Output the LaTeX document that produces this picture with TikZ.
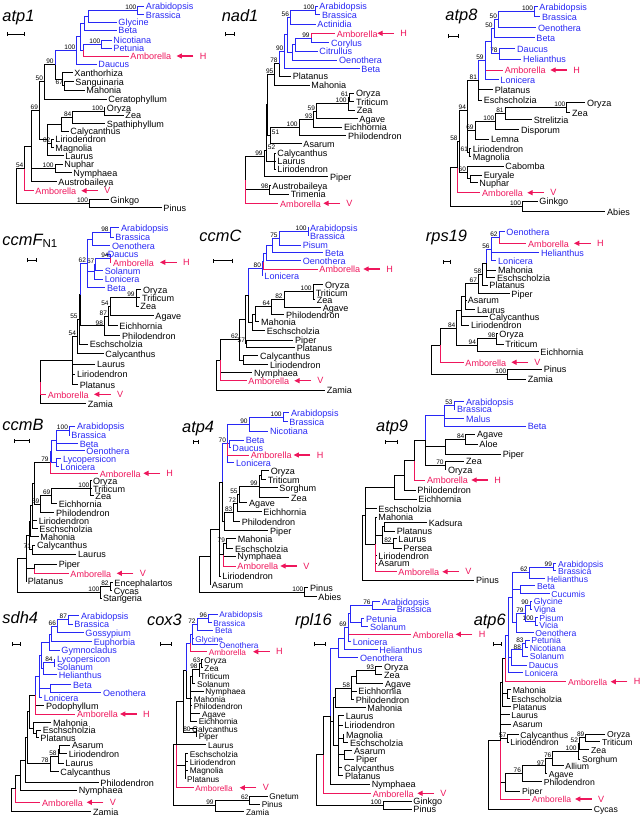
\documentclass[tikz,border=0pt]{standalone}
\usepackage{fontspec}
\setmainfont{Liberation Sans}
\usetikzlibrary{calc,arrows.meta}
\definecolor{treeblue}{RGB}{40,40,245}
\definecolor{amborella}{RGB}{238,22,92}
\tikzset{
  leaf/.style={anchor=west, xshift=-1pt, inner xsep=1pt, inner ysep=0pt, text height=1.45ex, text depth=0.35ex, font=\fontsize{6.8}{7}\selectfont},
  bl/.style={color=treeblue},
  am/.style={color=amborella},
  bsv/.style={anchor=south east, xshift=-0.4pt, inner sep=0.3pt, font=\fontsize{4.9}{5}\selectfont},
  ttl/.style={anchor=base west, inner sep=0pt, font=\fontsize{12.3}{14}\selectfont\itshape},
  hvlab/.style={anchor=west, inner sep=0pt, color=amborella, font=\fontsize{6.8}{7}\selectfont},
  hvarr/.style={color=amborella, line width=0.8pt, -{Triangle[length=4pt,width=3.8pt]}},
  sbar/.style={line width=0.7pt, {Bar[width=3pt]}-{Bar[width=3pt]}},
}
% leaf, internal node, branch, clade, support value, H/V marker
\newcommand\lf[4][]{\node[leaf,#1] (#2) at (#3) {#4};}
\newcommand\nd[4]{\path ($(#3)!.5!(#4)$) coordinate (tmp); \coordinate (#1) at (tmp -| #2,0);}
\newcommand\br[3][]{\draw[#1] (#2) |- (#3);}
\newcommand\cl[5][]{\nd{#2}{#3}{#4}{#5}\br[#1]{#2}{#4}\br[#1]{#2}{#5}}
\newcommand\clxy[5][]{\coordinate (#2) at (#3); \br[#1]{#2}{#4}\br[#1]{#2}{#5}}
\newcommand\bsv[3][]{\node[bsv,#1] (s#2) at (#2) {#3};}
\newcommand\hv[3]{\node[hvlab] (#1) at (#2) {#3}; \draw[hvarr] ([xshift=-4.5pt]#1.west) -- ++(-12.5pt,0);}
\begin{document}
\begin{tikzpicture}[x=0.75pt, y=-0.75pt, line width=0.7pt]
\useasboundingbox (0,0) rectangle (640,818);
% ---------------- atp1
\begin{scope}[name prefix=A-]
\node[ttl] (title) at (2,21) {atp1};
\draw[sbar] (7,34) -- (25,34);
\lf[bl]{arab}{145.5,6}{Arabidopsis}
\lf[bl]{bras}{145.5,14.7}{Brassica}
\lf[bl]{glyc}{118,22}{Glycine}
\lf[bl]{beta}{118,30}{Beta}
\lf[bl]{nico}{113,40}{Nicotiana}
\lf[bl]{petu}{113,48}{Petunia}
\lf[am]{ambh}{130,56}{Amborella}
\lf[bl]{dauc}{98,64}{Daucus}
\lf{xant}{74,72.3}{Xanthorhiza}
\lf{sang}{75,81.7}{Sanguinaria}
\lf{maho}{86,90}{Mahonia}
\lf{cera}{108,99}{Ceratophyllum}
\lf{oryz}{106.5,107.7}{Oryza}
\lf{zea}{125,115}{Zea}
\lf{spat}{106.5,123.3}{Spathiphyllum}
\lf{caly}{70,131}{Calycanthus}
\lf{liri}{55,139}{Liriodendron}
\lf{magn}{55,147.3}{Magnolia}
\lf{laur}{65,155.7}{Laurus}
\lf{nuph}{64,164}{Nuphar}
\lf{nymp}{73,172.7}{Nymphaea}
\lf{aust}{58,181.3}{Austrobaileya}
\lf[am]{ambv}{35,190.7}{Amborella}
\lf{gink}{110,199.3}{Ginkgo}
\lf{pinu}{163,207.3}{Pinus}
\hv{mh}{199.3,56}{H}
\hv{mv}{104,190.7}{V}
\cl[bl]{n1}{137.7}{arab}{bras} \bsv{n1}{100}
\cl[bl]{n2}{88.3}{n1}{glyc}
\cl[bl]{n3}{84.3}{n2}{beta}
\cl[bl]{n4}{101.7}{nico}{petu} \bsv{n4}{100}
\nd{n5}{83.3}{n4}{ambh} \br[bl]{n5}{n4} \br[am]{n5}{ambh}
\cl[bl]{n6}{80}{n3}{n5}
\cl[bl]{n7}{76.7}{n6}{dauc} \bsv{n7}{100}
\cl{n8}{64.3}{sang}{maho} \bsv{n8}{67}
\cl{n9}{62.5}{xant}{n8}
\nd{n10}{55}{n7}{n9} \br[bl]{n10}{n7} \br{n10}{n9} \bsv{n10}{90}
\cl{n11}{44.3}{n10}{cera} \bsv{n11}{50}
\cl{n12}{104.3}{oryz}{zea} \bsv{n12}{100}
\cl{n13}{72.7}{n12}{spat} \bsv{n13}{84}
\cl{n14}{61}{n13}{caly}
\cl{n15}{51.7}{liri}{magn} \bsv{n15}{82}
\cl{n16}{47}{n14}{laur} \br{n16}{n15}
\cl{n17}{39.3}{n11}{n16} \bsv{n17}{69}
\cl{n18}{55}{nuph}{nymp} \bsv{n18}{100}
\cl{n19}{31}{n17}{aust} \br{n19}{n18}
\nd{n20}{24.7}{n19}{ambv} \br{n20}{n19} \br[am]{n20}{ambv} \bsv{n20}{54}
\cl{n21}{89.3}{gink}{pinu} \bsv{n21}{100}
\cl{n22}{16}{n20}{n21}
\end{scope}
% ---------------- nad1
\begin{scope}[name prefix=B-]
\node[ttl] (title) at (221.3,21.7) {nad1};
\draw[sbar] (224.7,34.3) -- (234.7,34.3);
\lf[bl]{arab}{319,6}{Arabidopsis}
\lf[bl]{bras}{321.7,14.7}{Brassica}
\lf[bl]{acti}{317,24}{Actinidia}
\lf[am]{ambh}{336.3,33.3}{Amborella}
\lf[bl]{cory}{330.7,42.7}{Corylus}
\lf[bl]{citr}{319,51}{Citrullus}
\lf[bl]{oeno}{338.7,60}{Oenothera}
\lf[bl]{beta}{361,68.7}{Beta}
\lf{plat}{292.3,76}{Platanus}
\lf{maho}{311,85}{Mahonia}
\lf{oryz}{355.7,93}{Oryza}
\lf{trit}{355.7,101.3}{Triticum}
\lf{zea}{356.3,110}{Zea}
\lf{agav}{359,118.7}{Agave}
\lf{eich}{343.7,127}{Eichhornia}
\lf{phil}{347.7,135.7}{Philodendron}
\lf{asar}{303,143.3}{Asarum}
\lf{caly}{277,153}{Calycanthus}
\lf{laur}{277,161}{Laurus}
\lf{liri}{277,169}{Liriodendron}
\lf{pipe}{329.7,176.7}{Piper}
\lf{aust}{272,185.7}{Austrobaileya}
\lf{trim}{290.3,194}{Trimenia}
\lf[am]{ambv}{279.7,203.3}{Amborella}
\hv{mh}{400,33.3}{H}
\hv{mv}{346,203.3}{V}
\cl[bl]{n1}{315.7}{arab}{bras} \bsv{n1}{100}
\cl[bl]{n2}{290.3}{n1}{acti} \bsv{n2}{56}
\nd{n3}{311}{ambh}{cory} \br[am]{n3}{ambh} \br[bl]{n3}{cory} \bsv{n3}{99}
\cl[bl]{n4}{295.7}{n3}{citr}
\cl[bl]{n5}{292}{n4}{oeno}
\cl[bl]{n6}{287}{n2}{n5}
\cl[bl]{n7}{284.7}{n6}{beta} \bsv{n7}{90}
\nd{n8}{279}{n7}{plat} \br[bl]{n8}{n7} \br{n8}{plat} \bsv{n8}{78}
\cl{n9}{274.7}{n8}{maho} \bsv{n9}{95}
\cl{n10}{349.7}{oryz}{trit} \bsv{n10}{61}
\cl{n11}{348}{n10}{zea} \bsv{n11}{100}
\cl{n12}{316.3}{n11}{agav} \bsv{n12}{59}
\cl{n13}{313.7}{n12}{eich} \bsv{n13}{93}
\cl{n14}{299}{n13}{phil} \bsv{n14}{100}
\cl{n15}{270.3}{n14}{asar} \bsv[anchor=south west,xshift=1pt]{n15}{51}
\cl{n16}{267.3}{n9}{n15}
\cl{n17}{274}{caly}{liri} \br{n17}{laur}
\clxy{n18}{266.3,150}{n16}{n17} \bsv[anchor=south west,xshift=1pt]{n18}{52}
\clxy{n19}{264,156.7}{n18}{pipe} \bsv{n19}{99}
\cl{n20}{269.7}{aust}{trim} \bsv{n20}{98}
\nd{n21}{245}{n19}{ambv} \br{n21}{n19} \br{n21}{n20} \br[am]{n21}{ambv}
\end{scope}
% ---------------- atp8
\begin{scope}[name prefix=C-]
\node[ttl] (title) at (445,20) {atp8};
\draw[sbar] (447.7,36) -- (459,36);
\lf[bl]{arab}{539,6.7}{Arabidopsis}
\lf[bl]{bras}{541.7,16.7}{Brassica}
\lf[bl]{oeno}{537.7,27.3}{Oenothera}
\lf[bl]{beta}{536,37.7}{Beta}
\lf[bl]{dauc}{516.7,48.3}{Daucus}
\lf[bl]{heli}{522.7,59}{Helianthus}
\lf[am]{ambh}{504.3,70}{Amborella}
\lf[bl]{loni}{500,79.3}{Lonicera}
\lf{plat}{494.3,89.3}{Platanus}
\lf{esch}{483.3,100}{Eschscholzia}
\lf{oryz}{586.7,102.3}{Oryza}
\lf{zea}{571.7,112.7}{Zea}
\lf{stre}{533.3,119.3}{Strelitzia}
\lf{disp}{520.7,129.3}{Disporum}
\lf{lemn}{490.7,139}{Lemna}
\lf{liri}{472.3,148.3}{Liriodendron}
\lf{magn}{472.3,156.7}{Magnolia}
\lf{cabo}{505,166}{Cabomba}
\lf{eury}{483.3,175}{Euryale}
\lf{nuph}{479,182.7}{Nuphar}
\lf[am]{ambv}{481.7,192.7}{Amborella}
\lf{gink}{539,201}{Ginkgo}
\lf{abie}{606.7,211.7}{Abies}
\hv{mh}{573,70}{H}
\hv{mv}{550,192.7}{V}
\cl[bl]{n1}{534.3}{arab}{bras} \bsv{n1}{100}
\cl[bl]{n2}{498.3}{n1}{oeno} \bsv{n2}{50}
\cl[bl]{n3}{494}{n2}{beta} \bsv{n3}{50}
\cl[bl]{n4}{499}{dauc}{heli} \bsv{n4}{78}
\cl[bl]{n5}{491.7}{n3}{n4}
\nd{n6}{485}{n5}{loni} \br[bl]{n6}{n5} \br[am]{n6}{ambh} \br[bl]{n6}{loni} \bsv{n6}{59}
\nd{n7}{478.3}{n6}{esch} \br[bl]{n7}{n6} \br{n7}{plat} \br{n7}{esch} \bsv{n7}{81}
\cl{n8}{566.7}{oryz}{zea} \bsv{n8}{100}
\cl{n9}{505}{n8}{stre} \bsv{n9}{81}
\cl{n10}{495.7}{n9}{disp} \bsv{n10}{100}
\cl{n11}{475}{n10}{lemn} \bsv{n11}{69}
\cl{n12}{469.3}{liri}{magn} \bsv{n12}{61}
\cl{n13}{467.7}{n11}{n12}
\cl{n14}{467.3}{n7}{n13} \bsv{n14}{94}
\cl{n15a}{470}{eury}{nuph}
\cl{n15}{467.3}{cabo}{n15a} \bsv{n15}{60}
\cl{n16}{459}{n14}{n15} \bsv{n16}{58}
\nd{n17}{457.5}{n16}{ambv} \br{n17}{n16} \br[am]{n17}{ambv}
\cl{n18}{522.3}{gink}{abie} \bsv{n18}{100}
\cl{n19}{450}{n17}{n18}
\end{scope}
% ---------------- ccmF N1
\begin{scope}[name prefix=D-]
\node[ttl] (title) at (2,245) {ccmF\textsubscript{\upshape N1}};
\draw[sbar] (26.7,260) -- (37.3,260);
\lf[bl]{arab}{120.7,227.7}{Arabidopsis}
\lf[bl]{bras}{115,237}{Brassica}
\lf[bl]{oeno}{111.7,245.7}{Oenothera}
\lf[bl]{dauc}{107.3,254}{Daucus}
\lf[am]{ambh}{112.7,262.3}{Amborella}
\lf[bl]{sola}{104.3,270.7}{Solanum}
\lf[bl]{loni}{104.3,279}{Lonicera}
\lf[bl]{beta}{106.7,287.3}{Beta}
\lf{oryz}{142.7,289.3}{Oryza}
\lf{trit}{141.7,297.7}{Triticum}
\lf{zea}{140,306}{Zea}
\lf{agav}{155,315.7}{Agave}
\lf{eich}{119,325.7}{Eichhornia}
\lf{phil}{121.7,335.7}{Philodendron}
\lf{esch}{89.3,344}{Eschscholzia}
\lf{caly}{105,353.3}{Calycanthus}
\lf{laur}{96.7,364}{Laurus}
\lf{liri}{76.7,374}{Liriodendron}
\lf{plat}{79.3,384.3}{Platanus}
\lf[am]{ambv}{47.3,394.3}{Amborella}
\lf{zami}{87.3,403.3}{Zamia}
\hv{mh}{182.7,262.3}{H}
\hv{mv}{116.7,394.3}{V}
\cl[bl]{n1}{110}{arab}{bras} \bsv{n1}{98}
\cl[bl]{n2}{92.3}{n1}{oeno}
\nd{n3}{110}{dauc}{ambh} \br[bl]{n3}{dauc} \br[am]{n3}{ambh} \bsv{n3}{94}
\cl[bl]{n4}{95.7}{n3}{sola} \bsv{n4}{67}
\cl[bl]{n5}{94.3}{n4}{loni}
\cl[bl]{n6}{87.3}{n2}{beta} \br[bl]{n6}{n5} \bsv{n6}{62}
\cl{n7}{136}{oryz}{zea} \br{n7}{trit} \bsv{n7}{99}
\cl{n8}{110}{n7}{agav} \bsv{n8}{54}
\cl{n9}{108.3}{n8}{eich} \bsv{n9}{87}
\cl{n10}{104.3}{n9}{phil} \bsv{n10}{98}
\nd{n11}{80}{n6}{n10} \br[bl]{n11}{n6} \br{n11}{n10}
\cl{n12}{79}{n11}{esch} \bsv{n12}{55}
\cl{n13}{77.3}{n12}{caly} \bsv{n13}{54}
\cl{n14}{72.7}{n13}{plat} \br{n14}{laur} \br{n14}{liri}
\nd{n15}{40.7}{n14}{zami} \br{n15}{n14} \br{n15}{zami} \br[am]{n15}{ambv}
\end{scope}
% ---------------- ccmC
\begin{scope}[name prefix=E-]
\node[ttl] (title) at (199,241.7) {ccmC};
\draw[sbar] (213,260.7) -- (233,260.7);
\lf[bl]{arab}{309.7,227.3}{Arabidopsis}
\lf[bl]{bras}{309.7,235.7}{Brassica}
\lf[bl]{pisu}{302.3,245}{Pisum}
\lf[bl]{beta}{324.7,252.3}{Beta}
\lf[bl]{oeno}{302.3,260.7}{Oenothera}
\lf[am]{ambh}{319,269}{Amborella}
\lf[bl]{loni}{264,275.7}{Lonicera}
\lf{oryz}{324.7,284.3}{Oryza}
\lf{trit}{315.3,292.3}{Triticum}
\lf{zea}{316.3,299.3}{Zea}
\lf{agav}{322.3,307.3}{Agave}
\lf{phil}{285.7,314.3}{Philodendron}
\lf{maho}{260.7,321.7}{Mahonia}
\lf{esch}{266.3,330.7}{Eschscholzia}
\lf{pipe}{294.7,340}{Piper}
\lf{plat}{296.3,347.7}{Platanus}
\lf{caly}{259.7,355.7}{Calycanthus}
\lf{liri}{269.7,364.3}{Liriodendron}
\lf{nymp}{253.7,372.7}{Nymphaea}
\lf[am]{ambv}{248,380.7}{Amborella}
\lf{zami}{326.3,390}{Zamia}
\hv{mh}{386,269}{H}
\hv{mv}{317,380.7}{V}
\cl[bl]{n1}{308}{arab}{bras} \bsv{n1}{100}
\cl[bl]{n2}{279}{n1}{pisu} \bsv{n2}{75}
\cl[bl]{n3}{272.3}{n2}{beta}
\cl[bl]{n4}{266.3}{n3}{oeno}
\nd{n5}{263.7}{n4}{ambh} \br[bl]{n5}{n4} \br[am]{n5}{ambh}
\cl[bl]{n6}{262.3}{n5}{loni} \bsv{n6}{80}
\cl{n7}{313}{oryz}{zea} \br{n7}{trit} \bsv{n7}{100}
\cl{n8}{284}{n7}{agav} \bsv{n8}{82}
\cl{n9}{271.3}{n8}{phil} \bsv{n9}{64}
\cl{n10}{255.7}{n9}{maho}
\cl{n11}{252.3}{n10}{esch}
\cl{n12}{246.3}{pipe}{plat} \bsv{n12}{57}
\cl{n13}{243}{caly}{liri}
\nd{n14}{248.7}{n6}{n11} \br[bl]{n14}{n6} \br{n14}{n11}
\cl{n15}{245.3}{n14}{n12}
\cl{n16}{239.7}{n15}{n13} \bsv{n16}{62}
\nd{n17}{220.3}{n16}{ambv} \br{n17}{n16} \br{n17}{nymp} \br[am]{n17}{ambv}
\cl{n18}{216.3}{n17}{zami}
\end{scope}
% ---------------- rps19
\begin{scope}[name prefix=F-]
\node[ttl] (title) at (425.5,241.7) {rps19};
\draw[sbar] (443.3,261.7) -- (451,261.7);
\lf[bl]{oeno}{506,231.7}{Oenothera}
\lf[am]{ambh}{527.7,243.3}{Amborella}
\lf[bl]{heli}{540.7,252.7}{Helianthus}
\lf[bl]{loni}{497.7,260.7}{Lonicera}
\lf{maho}{497.7,270}{Mahonia}
\lf{esch}{496.7,277.7}{Eschscholzia}
\lf{plat}{489,285}{Platanus}
\lf{pipe}{511,293.3}{Piper}
\lf{asar}{467.3,300}{Asarum}
\lf{laur}{476.7,309.3}{Laurus}
\lf{caly}{489,316.7}{Calycanthus}
\lf{liri}{470.7,325}{Liriodendron}
\lf{oryz}{499,333.3}{Oryza}
\lf{trit}{505,344}{Triticum}
\lf{eich}{540,351.7}{Eichhornia}
\lf[am]{ambv}{465,362.3}{Amborella}
\lf{pinu}{543.3,369}{Pinus}
\lf{zami}{527.3,379}{Zamia}
\hv{mh}{596.7,243.3}{H}
\hv{mv}{534,362.3}{V}
\nd{n1}{499}{oeno}{ambh} \br[bl]{n1}{oeno} \br[am]{n1}{ambh} \bsv{n1}{62}
\cl[bl]{n2}{491}{n1}{loni} \br[bl]{n2}{heli} \bsv{n2}{56}
\nd{n3}{486.7}{n2}{esch} \br[bl]{n3}{n2} \br{n3}{maho} \br{n3}{esch}
\cl{n4}{482.7}{n3}{plat} \bsv{n4}{58}
\cl{n5}{478.3}{n4}{pipe} \bsv{n5}{67}
\cl{n6}{465.7}{n5}{laur} \br{n6}{asar}
\cl{n7}{461}{n6}{liri} \br{n7}{caly}
\cl{n8}{496.7}{oryz}{trit} \bsv{n8}{98}
\cl{n9}{477.3}{n8}{eich} \bsv{n9}{94}
\cl{n10}{456.7}{n7}{n9} \bsv{n10}{84}
\nd{n11}{440}{n10}{ambv} \br{n11}{n10} \br[am]{n11}{ambv}
\cl{n12}{507.7}{pinu}{zami} \bsv{n12}{100}
\cl{n13}{431}{n11}{n12}
\end{scope}
% ---------------- ccmB
\begin{scope}[name prefix=G-]
\node[ttl] (title) at (2,430.7) {ccmB};
\draw[sbar] (14,440.7) -- (30,440.7);
\lf[bl]{arab}{76.7,426}{Arabidopsis}
\lf[bl]{bras}{71,435}{Brassica}
\lf[bl]{beta}{79.3,443.3}{Beta}
\lf[bl]{oeno}{86,450.7}{Oenothera}
\lf[bl]{lyco}{62.7,458.3}{Lycopersicon}
\lf[bl]{loni}{60,466.7}{Lonicera}
\lf[am]{ambh}{99.3,473.3}{Amborella}
\lf{oryz}{92.7,480.7}{Oryza}
\lf{trit}{92.7,488.3}{Triticum}
\lf{zea}{95,495.7}{Zea}
\lf{eich}{58.3,503.3}{Eichhornia}
\lf{phil}{55.7,512.3}{Philodendron}
\lf{liri}{38.3,520.7}{Liriodendron}
\lf{esch}{39,528.3}{Eschscholzia}
\lf{maho}{40,536.7}{Mahonia}
\lf{caly}{36.7,545}{Calycanthus}
\lf{laur}{77.7,554}{Laurus}
\lf{pipe}{58.3,564}{Piper}
\lf[am]{ambv}{70,573.3}{Amborella}
\lf{plat}{27.3,581}{Platanus}
\lf{ence}{114,582.7}{Encephalartos}
\lf{cyca}{113.3,590.7}{Cycas}
\lf{stan}{102.7,598}{Stangeria}
\hv{mh}{166,473.3}{H}
\hv{mv}{139.3,573.3}{V}
\cl[bl]{n1}{69.3}{arab}{bras} \bsv{n1}{100}
\cl[bl]{n2}{56.7}{n1}{oeno} \br[bl]{n2}{beta}
\cl[bl]{n3}{56.7}{lyco}{loni}
\cl[bl]{n4}{51.7}{n2}{n3}
\nd{n5}{50}{n4}{ambh} \br[bl]{n5}{n4} \br[am]{n5}{ambh} \bsv{n5}{79}
\cl{n6}{90.7}{oryz}{zea} \br{n6}{trit} \bsv{n6}{100}
\cl{n7}{51.7}{n6}{eich} \bsv{n7}{69}
\cl{n8}{40.7}{n7}{phil} \bsv{n8}{59}
\cl{n9}{34.3}{n5}{n8}
\cl{n10}{32.3}{n9}{esch} \br{n10}{liri}
\cl{n11}{30}{n10}{maho}
\cl{n12}{32.3}{caly}{laur} \bsv{n12}{71}
\nd{n13}{34.3}{pipe}{ambv} \br{n13}{pipe} \br[am]{n13}{ambv}
\cl{n14}{29.3}{n11}{n12}
\cl{n15}{26}{n14}{plat} \br{n15}{n13}
\cl{n16}{110}{ence}{cyca} \bsv{n16}{82}
\cl{n17}{100.7}{n16}{stan} \bsv{n17}{100}
\cl{n18}{17.3}{n15}{n17}
\end{scope}
% ---------------- atp4
\begin{scope}[name prefix=H-]
\node[ttl] (title) at (181.7,432.3) {atp4};
\draw[sbar] (192.7,441.7) -- (199.3,441.7);
\lf[bl]{arab}{290.7,412.3}{Arabidopsis}
\lf[bl]{bras}{289,421.7}{Brassica}
\lf[bl]{nico}{269.7,431}{Nicotiana}
\lf[bl]{beta}{245.3,440}{Beta}
\lf[bl]{dauc}{232,447.3}{Daucus}
\lf[am]{ambh}{250.3,455}{Amborella}
\lf[bl]{loni}{235.7,462.7}{Lonicera}
\lf{oryz}{270.3,470.7}{Oryza}
\lf{trit}{267.3,479.3}{Triticum}
\lf{sorg}{279,487.7}{Sorghum}
\lf{zea}{290.7,497.3}{Zea}
\lf{agav}{248.7,502.7}{Agave}
\lf{eich}{263,511.7}{Eichhornia}
\lf{phil}{241.3,521.7}{Philodendron}
\lf{pipe}{269.7,530.7}{Piper}
\lf{maho}{237.3,538.3}{Mahonia}
\lf{esch}{234.7,548.3}{Eschscholzia}
\lf{nymp}{237,556}{Nymphaea}
\lf[am]{ambv}{237,566}{Amborella}
\lf{liri}{222,576}{Liriodendron}
\lf{asar}{211.5,584.3}{Asarum}
\lf{pinu}{309.7,587.7}{Pinus}
\lf{abie}{318,596.7}{Abies}
\hv{mh}{316.3,455}{H}
\hv{mv}{303,566}{V}
\cl[bl]{n1}{283}{arab}{bras} \bsv{n1}{100}
\cl[bl]{n2}{249}{n1}{nico} \bsv{n2}{90}
\cl[bl]{n3}{229.7}{beta}{dauc}
\cl[bl]{n4}{227.3}{n2}{loni} \br[bl]{n4}{n3} \br[am]{n4}{ambh} \bsv{n4}{70}
\cl{n5}{261.3}{oryz}{trit}
\cl{n6}{259}{n5}{zea} \br{n6}{sorg} \bsv{n6}{99}
\cl{n7}{239}{n6}{agav} \bsv{n7}{55}
\cl{n8}{237.3}{n7}{eich} \bsv{n8}{72}
\cl{n9}{233.7}{n8}{phil} \bsv{n9}{83}
\cl{n10}{224}{n9}{pipe}
\nd{n11}{222.3}{n4}{n10} \br[bl]{n11}{n4} \br{n11}{n10}
\cl{n12}{226.3}{maho}{esch} \bsv{n12}{79}
\nd{n13}{223.7}{n12}{ambv} \br{n13}{n12} \br{n13}{nymp} \br[am]{n13}{ambv}
\cl{n14}{219}{n11}{liri} \br{n14}{n13}
\cl{n15}{210}{n14}{asar}
\cl{n16}{304.7}{pinu}{abie} \bsv{n16}{100}
\cl{n17}{199.3}{n15}{n16}
\end{scope}
% ---------------- atp9
\begin{scope}[name prefix=I-]
\node[ttl] (title) at (375.7,431.7) {atp9};
\draw[sbar] (384.7,441.7) -- (398,441.7);
\lf[bl]{arab}{465.7,401.7}{Arabidopsis}
\lf[bl]{bras}{456.7,409}{Brassica}
\lf[bl]{malu}{465.7,418.3}{Malus}
\lf[bl]{beta}{527.3,426}{Beta}
\lf{agav}{476.7,434}{Agave}
\lf{aloe}{479,444}{Aloe}
\lf{pipe}{502.3,454}{Piper}
\lf{zea}{465.7,461}{Zea}
\lf{oryz}{447.7,469.3}{Oryza}
\lf[am]{ambh}{426.7,480}{Amborella}
\lf{phil}{417,490}{Philodendron}
\lf{eich}{418,499}{Eichhornia}
\lf{esch}{378,508.3}{Eschscholzia}
\lf{maho}{378,517}{Mahonia}
\lf{kads}{428.3,522.7}{Kadsura}
\lf{plat}{396.3,531}{Platanus}
\lf{laur}{398,538.8}{Laurus}
\lf{pers}{403,548}{Persea}
\lf{liri}{378,555.6}{Liriodendron}
\lf{asar}{378,563}{Asarum}
\lf[am]{ambv}{398,571.7}{Amborella}
\lf{pinu}{475.7,580}{Pinus}
\hv{mh}{494,480}{H}
\hv{mv}{465,571.7}{V}
\cl[bl]{n1}{454}{arab}{bras} \bsv{n1}{53}
\cl[bl]{n2}{444}{n1}{beta} \br[bl]{n2}{malu}
\cl{n3}{465.7}{agav}{aloe} \bsv{n3}{84}
\cl{n4}{445.7}{n3}{pipe}
\cl{n5}{445}{zea}{oryz} \bsv{n5}{70}
\nd{n6}{425}{n2}{n5} \br[bl]{n6}{n2} \br{n6}{n4} \br{n6}{n5}
\nd{n7}{414.7}{n6}{ambh} \br{n7}{n6} \br[am]{n7}{ambh}
\cl{n8}{404.7}{n7}{phil}
\cl{n9}{394.7}{n8}{eich}
\cl{n10}{384.7}{kads}{plat}
\cl{n11}{393}{laur}{pers} \bsv{n11}{82}
\cl{n12}{382}{n10}{n11}
\nd{n13}{375.3}{maho}{ambv} \br{n13}{maho} \br{n13}{n12} \br{n13}{liri} \br{n13}{asar} \br[am]{n13}{ambv}
\nd{n14}{365.7}{n9}{n13} \br{n14}{n9} \br{n14}{esch} \br{n14}{n13}
\cl{n15}{362}{n14}{pinu}
\end{scope}
% ---------------- sdh4
\begin{scope}[name prefix=J-]
\node[ttl] (title) at (2,623.3) {sdh4};
\draw[sbar] (11.7,644.3) -- (20.7,644.3);
\lf[bl]{arab}{80.7,615.7}{Arabidopsis}
\lf[bl]{bras}{74,624}{Brassica}
\lf[bl]{goss}{85,632.7}{Gossypium}
\lf[bl]{euph}{93.3,641.7}{Euphorbia}
\lf[bl]{gymn}{61,650}{Gymnocladus}
\lf[bl]{lyco}{56.7,659}{Lycopersicon}
\lf[bl]{sola}{56.7,666.7}{Solanum}
\lf[bl]{heli}{58.3,674.3}{Helianthus}
\lf[bl]{beta}{72.7,684.3}{Beta}
\lf[bl]{oeno}{102.7,692.3}{Oenothera}
\lf[bl]{loni}{43.3,697.8}{Lonicera}
\lf{podo}{45.7,705.8}{Podophyllum}
\lf[am]{ambh}{76.7,714}{Amborella}
\lf{maho}{52.7,722.3}{Mahonia}
\lf{esch}{42.3,730}{Eschscholzia}
\lf{plat}{40,737.3}{Platanus}
\lf{asar}{71.7,745}{Asarum}
\lf{liri}{68.3,753.3}{Liriodendron}
\lf{laur}{65,763}{Laurus}
\lf{caly}{60,771.7}{Calycanthus}
\lf{phil}{100,782.3}{Philodendron}
\lf{nymp}{78.3,790}{Nymphaea}
\lf[am]{ambv}{41.7,802.3}{Amborella}
\lf{zami}{92.7,811.7}{Zamia}
\hv{mh}{142.7,714}{H}
\hv{mv}{109.3,802.3}{V}
\cl[bl]{n1}{68.3}{arab}{bras} \bsv{n1}{87}
\cl[bl]{n2}{57.3}{n1}{goss} \bsv{n2}{66}
\cl[bl]{n3}{51}{n2}{euph}
\cl[bl]{n4}{49.3}{n3}{gymn}
\cl[bl]{n5}{54}{lyco}{sola} \bsv{n5}{84}
\cl[bl]{n6}{43.3}{n5}{heli}
\cl[bl]{n7}{50}{beta}{oeno}
\cl[bl]{n8}{41.7}{n4}{n6}
\cl[bl]{n9}{39.3}{n8}{loni} \br[bl]{n9}{n7}
\nd{n10}{35}{n9}{ambh} \br[bl]{n10}{n9} \br{n10}{podo} \br[am]{n10}{ambh}
\cl{n11a}{36}{esch}{plat}
\cl{n11}{33.3}{maho}{n11a}
\cl{n12}{29.3}{n10}{n11}
\cl{n13}{59.3}{asar}{liri}
\cl{n14}{58}{n13}{laur} \bsv{n14}{58}
\cl{n15}{50}{n14}{caly} \bsv{n15}{78}
\cl{n16}{27}{n12}{n15}
\cl{n17}{25}{n16}{phil}
\cl{n18}{20}{n17}{nymp}
\nd{n19}{15}{n18}{ambv} \br{n19}{n18} \br[am]{n19}{ambv}
\cl{n20}{11.7}{n19}{zami}
\end{scope}
% ---------------- cox3
\begin{scope}[name prefix=K-, leaf/.append style={font=\fontsize{6.2}{6.5}\selectfont}]
\node[ttl] (title) at (146.7,625) {cox3};
\draw[sbar] (160,644.3) -- (171.7,644.3);
\lf[bl]{arab}{219,614}{Arabidopsis}
\lf[bl]{bras}{213,622.3}{Brassica}
\lf[bl]{beta}{214.7,630}{Beta}
\lf[bl]{glyc}{195,638.3}{Glycine}
\lf[bl]{oeno}{219,644.5}{Oenothera}
\lf[am]{ambh}{208.3,651.7}{Amborella}
\lf{oryz}{204,659.3}{Oryza}
\lf{zea}{204,667.7}{Zea}
\lf{trit}{200,676}{Triticum}
\lf{sola}{196.7,683.7}{Solanum}
\lf{nymp}{205,691}{Nymphaea}
\lf{maho}{193.3,698.3}{Mahonia}
\lf{phil}{193.3,705.7}{Philodendron}
\lf{agav}{201.7,713.3}{Agave}
\lf{eich}{198.3,721}{Eichhornia}
\lf{caly}{191.7,728.3}{Calycanthus}
\lf{pipe}{198.3,736}{Piper}
\lf{laur}{207.7,744.3}{Laurus}
\lf{esch}{189.3,753.3}{Eschscholzia}
\lf{liri}{189.3,761.7}{Liriodendron}
\lf{magn}{189.3,770}{Magnolia}
\lf{plat}{186.7,778.3}{Platanus}
\lf[am]{ambv}{195,787.7}{Amborella}
\lf{gnet}{269,796}{Gnetum}
\lf{pinu}{261.3,804}{Pinus}
\lf{zami}{245.7,811.7}{Zamia}
\hv{mh}{275.7,651.7}{H}
\hv{mv}{262.3,787.7}{V}
\cl[bl]{n1}{208.3}{arab}{bras} \bsv{n1}{96}
\cl[bl]{n2}{197}{n1}{beta} \bsv{n2}{72}
\cl[bl]{n3}{192}{n2}{oeno} \br[bl]{n3}{glyc}
\nd{n4}{190}{n3}{ambh} \br[bl]{n4}{n3} \br[am]{n4}{ambh}
\cl{n5}{201.7}{oryz}{zea} \bsv{n5}{63}
\cl{n6}{199}{n5}{trit} \bsv{n6}{98}
\cl{n7}{192}{n6}{sola}
\cl{n8}{190}{n7}{eich} \br{n8}{nymp} \br{n8}{maho} \br{n8}{phil} \br{n8}{agav}
\nd{n9}{186}{n4}{n8} \br[bl]{n9}{n4} \br{n9}{n8}
\cl{n10}{196}{caly}{pipe} \bsv[xshift=-3pt]{n10}{80}
\cl{n11}{183}{n9}{n10}
\cl{n12}{185}{esch}{plat} \br{n12}{liri} \br{n12}{magn}
\nd{n13}{176.7}{n11}{ambv} \br{n13}{n11} \br{n13}{laur} \br{n13}{n12} \br[am]{n13}{ambv}
\cl{n14}{249.7}{gnet}{pinu} \bsv{n14}{62}
\cl{n15}{215}{n14}{zami} \bsv{n15}{99}
\cl{n16}{173.3}{n13}{n15}
\end{scope}
% ---------------- rpl16
\begin{scope}[name prefix=L-]
\node[ttl] (title) at (294.7,625) {rpl16};
\draw[sbar] (313.7,644.3) -- (326.3,644.3);
\lf[bl]{arab}{381.3,601.7}{Arabidopsis}
\lf[bl]{bras}{396.3,609}{Brassica}
\lf[bl]{petu}{365.7,618.3}{Petunia}
\lf[bl]{sola}{369.7,626.7}{Solanum}
\lf[am]{ambh}{412.3,634.3}{Amborella}
\lf[bl]{loni}{352.3,641.7}{Lonicera}
\lf[bl]{heli}{379,649.3}{Helianthus}
\lf[bl]{oeno}{359.7,657.7}{Oenothera}
\lf{oryz}{383.7,666.7}{Oryza}
\lf{zea}{383.7,674.3}{Zea}
\lf{agav}{384.7,683.3}{Agave}
\lf{eich}{358,691}{Eichhornia}
\lf{phil}{355.3,699.3}{Philodendron}
\lf{maho}{367,707.7}{Mahonia}
\lf{laur}{345.3,715.7}{Laurus}
\lf{liri}{344,725}{Liriodendron}
\lf{magn}{345.7,734.3}{Magnolia}
\lf{esch}{349.7,742.7}{Eschscholzia}
\lf{asar}{353.7,750.7}{Asarum}
\lf{pipe}{355.7,759}{Piper}
\lf{caly}{343.7,767.3}{Calycanthus}
\lf{plat}{344.7,775.7}{Platanus}
\lf{nymp}{371.3,784}{Nymphaea}
\lf[am]{ambv}{372.3,793.3}{Amborella}
\lf{gink}{413,801}{Ginkgo}
\lf{pinu}{413,809}{Pinus}
\hv{mh}{478.3,634.3}{H}
\hv{mv}{440,793.3}{V}
\cl[bl]{n1}{372}{arab}{bras} \bsv{n1}{76}
\cl[bl]{n2}{361}{petu}{sola}
\cl[bl]{n3}{350}{n1}{n2}
\nd{n4}{348}{n3}{loni} \br[bl]{n4}{n3} \br[am]{n4}{ambh} \br[bl]{n4}{loni} \bsv{n4}{69}
\cl[bl]{n5}{344.7}{n4}{heli}
\cl[bl]{n6}{338}{n5}{oeno}
\cl{n7}{375.3}{oryz}{zea} \bsv{n7}{93}
\cl{n8}{356.3}{n7}{agav}
\cl{n9}{351.3}{n8}{phil} \br{n9}{eich} \bsv{n9}{58}
\cl{n10}{335.7}{n9}{maho}
\cl{n11}{344.7}{asar}{pipe}
\cl{n12}{343}{magn}{esch}
\cl{n13}{338}{laur}{plat} \br{n13}{liri} \br{n13}{n12} \br{n13}{n11} \br{n13}{caly}
\cl{n14}{333}{n10}{n13}
\nd{n15}{330.3}{n6}{nymp} \br[bl]{n15}{n6} \br{n15}{n14} \br{n15}{nymp}
\nd{n16}{323}{n15}{ambv} \br{n16}{n15} \br[am]{n16}{ambv}
\cl{n17}{383}{gink}{pinu} \bsv{n17}{100}
\cl{n18}{316.3}{n16}{n17}
\end{scope}
% ---------------- atp6
\begin{scope}[name prefix=M-, leaf/.append style={font=\fontsize{6.5}{7}\selectfont}]
\node[ttl] (title) at (473.3,625) {atp6};
\draw[sbar] (493.3,644.3) -- (502.3,644.3);
\lf[bl]{arab}{557.7,563.3}{Arabidopsis}
\lf[bl]{bras}{557.7,570.7}{Brassica}
\lf[bl]{heli}{546.7,578.3}{Helianthus}
\lf[bl]{beta}{536.7,585.7}{Beta}
\lf[bl]{cucu}{551,593.3}{Cucumis}
\lf[bl]{glyc}{533.3,601}{Glycine}
\lf[bl]{vign}{533.3,609}{Vigna}
\lf[bl]{pisu}{539,617.3}{Pisum}
\lf[bl]{vici}{539,625}{Vicia}
\lf[bl]{oeno}{535,632.3}{Oenothera}
\lf[bl]{petu}{531,640}{Petunia}
\lf[bl]{nico}{529.3,647.7}{Nicotiana}
\lf[bl]{sola}{529.3,656}{Solanum}
\lf[bl]{dauc}{528.3,665}{Daucus}
\lf[bl]{loni}{524.3,672.7}{Lonicera}
\lf[am]{ambh}{567.7,681.7}{Amborella}
\lf{maho}{512.3,689.3}{Mahonia}
\lf{esch}{511,698.3}{Eschscholzia}
\lf{plat}{512.3,706.7}{Platanus}
\lf{laur}{511,714.6}{Laurus}
\lf{asar}{512.3,724}{Asarum}
\lf{caly}{520,734.3}{Calycanthus}
\lf{liri}{510,742}{Liriodendron}
\lf{oryz}{606.7,734}{Oryza}
\lf{trit}{601.7,741.5}{Triticum}
\lf{zea}{590.7,749.3}{Zea}
\lf{sorg}{581.7,759}{Sorghum}
\lf{alli}{565,765.5}{Allium}
\lf{agav}{548.3,773.5}{Agave}
\lf{phil}{543.3,781.7}{Philodendron}
\lf{pipe}{521.7,791}{Piper}
\lf[am]{ambv}{531.7,799}{Amborella}
\lf{cyca}{593.3,809}{Cycas}
\hv{mh}{633.3,681.7}{H}
\hv{mv}{597.7,799}{V}
\cl[bl]{n1}{553.3}{arab}{bras} \bsv{n1}{99}
\cl[bl]{n2}{529}{n1}{heli} \bsv{n2}{62}
\cl[bl]{n3}{520}{beta}{cucu}
\cl[bl]{n4}{530}{glyc}{vign} \bsv{n4}{90}
\cl[bl]{n5}{535}{pisu}{vici} \bsv{n5}{100}
\cl[bl]{n6}{525}{n4}{n5} \bsv{n6}{79}
\cl[bl]{n7}{516.7}{n6}{oeno}
\cl[bl]{n8}{512.3}{n2}{n7} \br[bl]{n8}{n3}
\cl[bl]{n9}{525}{petu}{nico} \bsv{n9}{83}
\cl[bl]{n10}{522.3}{n9}{sola} \bsv{n10}{88}
\cl[bl]{n11}{511}{n10}{dauc}
\cl[bl]{n12}{508.3}{n8}{loni} \br[bl]{n12}{n11}
\nd{n13}{505}{n12}{ambh} \br[bl]{n13}{n12} \br[am]{n13}{ambh}
\cl{n14}{507.7}{maho}{esch}
\cl{n15}{502.7}{n13}{plat} \br{n15}{n14}
\cl{n16}{507.7}{caly}{liri} \bsv{n16}{57}
\cl{n17}{585.7}{oryz}{trit} \bsv{n17}{89}
\cl{n18}{579.3}{n17}{zea} \bsv{n18}{52}
\cl{n19}{578}{n18}{sorg} \bsv{n19}{100}
\cl{n20}{552.7}{n19}{alli} \bsv{n20}{76}
\cl{n21}{545.7}{n20}{agav} \bsv{n21}{97}
\cl{n22}{522.3}{n21}{phil} \bsv{n22}{76}
\cl{n23}{505}{n22}{pipe}
\nd{n24}{500}{n15}{ambv} \br{n24}{n15} \br{n24}{laur} \br{n24}{asar} \br{n24}{n16} \br{n24}{n23} \br[am]{n24}{ambv}
\cl{n25}{488.3}{n24}{cyca}
\end{scope}
\end{tikzpicture}
\end{document}
